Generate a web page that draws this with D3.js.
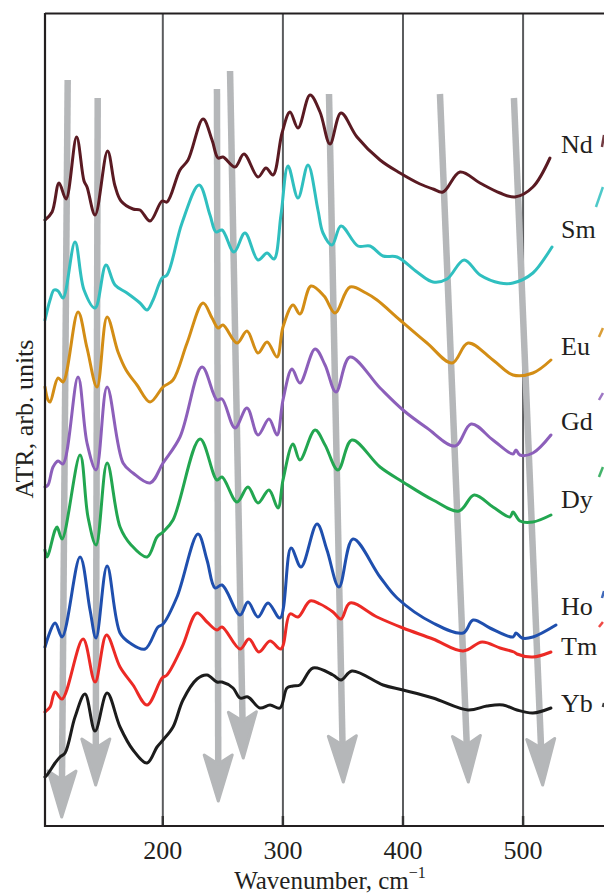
<!DOCTYPE html>
<html>
<head>
<meta charset="utf-8">
<script src="https://cdn.jsdelivr.net/npm/d3@7/dist/d3.min.js"></script>
<style>
body { margin: 0; background: #fff; }
svg { display: block; }
text { font-family: "Liberation Serif", "Times New Roman", serif; fill: #231f20; }
</style>
</head>
<body>
<script>
// wavenumber (cm-1) vs ATR (arb. units, curves offset vertically)
var xTicks = [200, 300, 400, 500];
var seriesNames = ['Nd', 'Sm', 'Eu', 'Gd', 'Dy', 'Ho', 'Tm', 'Yb'];
var seriesColors = ['#5a1a22', '#2fbfbf', '#d38d15', '#8c5fba', '#22a650', '#1f4fae', '#ec2a25', '#1c1c1c'];

var ndData = [[102.3,60.6],[108.2,61.4],[114.0,64.3],[119.8,62.7],[128.6,68.9],[134.8,64.5],[137.3,63.9],[144.0,61.1],
  [154.4,67.5],[160.6,64.0],[165.6,62.5],[175.6,61.7],[181.4,61.6],[189.8,60.5],[199.8,62.5],[203.9,62.4],[214.7,65.6],
  [221.4,66.6],[233.9,70.7],[241.4,68.6],[246.4,66.8],[250.5,66.9],[260.5,65.9],[268.0,67.2],[279.7,64.9],[286.3,65.8],
  [292.2,65.1],[299.7,69.3],[306.3,71.4],[313.0,69.8],[323.0,73.1],[331.3,71.4],[339.6,68.2],[348.8,71.3],[362.1,68.9],
  [381.3,66.6],[397.9,65.3],[414.6,64.2],[425.4,63.7],[433.7,63.4],[447.9,65.4],[464.5,64.3],[481.2,63.3],[493.7,62.9],
  [508.6,63.9],[522.8,66.8]];
var smData = [[102.3,50.6],[106.5,52.6],[109.8,53.6],[113.2,53.5],[117.3,52.8],[127.3,58.4],[134.8,53.6],[144.0,51.8],
  [153.1,56.1],[160.6,54.1],[170.6,53.3],[181.4,52.3],[187.3,51.6],[192.3,52.6],[199.8,54.8],[203.9,55.1],[216.4,60.3],
  [230.6,64.1],[239.7,61.1],[244.7,59.4],[249.7,59.6],[259.7,57.4],[268.8,59.3],[279.7,56.6],[287.2,57.3],[293.0,56.7],
  [298.8,61.1],[304.7,66.0],[313.0,62.8],[321.3,66.1],[329.6,61.6],[333.8,59.3],[341.3,58.1],[348.8,60.0],[362.9,58.0],
  [372.9,58.0],[383.8,57.0],[395.5,56.9],[412.1,55.4],[425.4,54.4],[437.1,54.7],[451.3,56.6],[464.6,55.1],[481.2,54.3],
  [492.0,54.3],[508.6,55.3],[524.5,57.9]];
var euData = [[102.3,43.9],[104.8,42.6],[106.5,42.4],[113.2,44.8],[117.3,44.4],[129.8,51.4],[137.3,47.8],[145.6,43.9],
  [154.0,50.9],[163.1,47.4],[169.8,45.6],[178.9,44.1],[189.8,42.4],[200.6,43.9],[208.9,44.6],[220.6,48.3],[233.9,52.3],
  [241.4,50.8],[246.4,49.8],[250.5,50.1],[262.2,48.3],[270.5,49.5],[279.7,47.3],[287.2,48.4],[295.5,46.9],[300.5,49.9],
  [308.8,52.1],[314.6,51.2],[323.8,54.0],[334.7,53.0],[343.8,51.3],[356.3,53.9],[369.6,53.3],[378.8,52.6],[397.9,50.6],
  [420.4,48.3],[441.3,46.3],[454.6,48.3],[475.3,46.6],[492.0,45.1],[508.6,45.3],[523.6,46.6]];
var gdData = [[102.3,33.9],[104.8,34.1],[109.0,35.9],[113.2,36.5],[117.3,36.2],[129.8,44.9],[137.3,38.3],[144.8,35.6],
  [154.0,43.9],[167.3,36.3],[175.6,35.3],[189.8,34.3],[200.6,36.3],[214.7,38.9],[233.1,45.9],[245.5,42.6],[249.7,42.7],
  [260.5,39.8],[270.5,41.8],[279.7,39.1],[288.8,40.7],[295.5,39.1],[300.5,42.6],[308.0,45.7],[314.6,44.3],[327.2,47.7],
  [335.5,46.1],[344.6,43.4],[356.3,46.9],[381.3,43.8],[400.4,41.6],[420.4,39.8],[443.8,38.0],[457.2,40.2],[475.3,38.6],
  [492.0,37.2],[494.5,37.6],[497.8,37.1],[508.6,37.3],[523.6,39.1]];
var dyData = [[102.3,27.6],[104.0,26.9],[110.7,29.6],[112.4,29.9],[116.5,28.7],[131.5,37.1],[138.1,30.9],[144.8,28.1],
  [154.0,36.3],[164.8,29.9],[174.0,28.1],[187.3,26.9],[195.6,28.9],[200.6,29.4],[208.9,30.6],[231.4,38.7],[245.5,34.6],
  [249.7,34.9],[262.2,32.4],[271.3,33.9],[279.7,32.3],[288.8,33.6],[296.3,31.8],[300.5,34.6],[308.8,38.2],[314.6,36.6],
  [327.2,39.6],[335.5,38.1],[346.3,35.6],[357.9,38.6],[381.3,35.9],[400.4,34.4],[425.4,32.6],[447.1,31.5],[459.7,33.1],
  [475.3,31.9],[489.5,30.9],[492.0,31.4],[497.8,30.5],[508.6,30.4],[523.6,31.1]];
var hoData = [[102.3,17.9],[110.7,20.3],[116.5,18.9],[131.5,26.9],[139.8,21.6],[144.8,18.8],[154.0,26.0],[164.8,19.3],
  [173.1,18.3],[185.6,17.7],[196.4,19.9],[200.6,20.2],[212.2,22.9],[229.7,29.2],[237.2,26.6],[243.9,23.8],[249.7,24.1],
  [264.7,21.1],[271.3,22.4],[279.7,20.9],[288.0,22.3],[298.0,20.8],[307.2,27.8],[315.5,25.9],[328.8,30.2],[337.1,27.6],
  [347.1,23.9],[358.8,28.7],[381.3,24.9],[395.5,22.8],[425.4,20.3],[450.5,19.3],[458.8,20.6],[472.8,19.8],[492.0,18.9],
  [494.5,19.3],[499.5,18.8],[508.6,18.9],[527.8,20.1]];
var tmData = [[102.3,11.4],[106.5,11.9],[110.7,13.4],[116.5,12.7],[134.0,18.7],[144.0,14.4],[153.5,19.1],[164.8,15.9],
  [175.6,14.1],[187.3,12.1],[199.8,14.8],[203.9,15.1],[216.4,17.9],[228.9,21.3],[237.2,20.4],[245.5,19.6],[249.7,19.9],
  [264.7,17.7],[272.2,18.7],[280.5,17.4],[289.7,18.5],[298.8,17.7],[306.3,21.2],[313.0,20.9],[323.0,22.5],[331.3,22.2],
  [342.1,21.4],[348.8,20.7],[356.3,22.3],[378.8,20.9],[400.4,19.8],[425.4,18.7],[450.5,17.5],[466.3,18.4],[481.2,17.8],
  [492.8,17.4],[495.3,17.2],[508.6,16.9],[523.6,17.4]];
var ybData = [[102.3,4.9],[104.0,5.1],[110.7,6.3],[114.8,6.9],[119.0,7.3],[127.3,10.9],[135.6,13.2],[144.0,9.5],
  [154.0,13.3],[164.8,9.9],[175.6,7.6],[187.3,6.3],[195.6,7.9],[200.6,8.6],[208.9,9.9],[217.2,12.6],[228.9,14.7],
  [237.2,15.1],[245.5,14.4],[249.7,14.4],[258.9,13.8],[264.7,12.8],[271.3,12.9],[281.3,11.8],[289.7,12.1],[298.0,11.8],
  [303.8,13.8],[308.8,14.0],[314.6,14.1],[325.5,15.8],[342.1,15.1],[348.8,14.6],[357.9,15.5],[383.8,14.1],[400.4,13.6],
  [425.4,12.8],[454.6,11.6],[470.3,12.0],[483.7,12.1],[495.3,11.6],[508.6,11.3],[523.6,11.8]];

// beginnings of the neighbouring panel's curves, cut by the right edge
var nextPanelData = [[[566.1,67.9],[567.8,69.1]], [[561.1,61.9],[566.9,63.9]], [[563.6,48.9],[566.9,49.8]],
  [[563.6,42.6],[566.9,43.3]], [[563.6,34.9],[566.9,35.9]], [[566.1,22.8],[567.8,23.5]],
  [[563.6,19.9],[566.9,20.4]], [[566.9,11.9],[567.8,12.3]]];

// grey arrows: [wavenumber, ATR] of tail and tip
var arrowFrom = [[121.2,74.6],[146.2,72.8],[245.5,73.7],[256.4,75.5],[338.8,73.2],[431.2,73.2],[492.8,72.8]];
var arrowTo = [[116.2,0.9],[144.5,4.1],[246.6,2.5],[267.4,6.8],[350.7,4.4],[454.8,4.4],[516.7,4.1]];

var seriesValues = [ndData, smData, euData, gdData, dyData, hoData, tmData, ybData];

window.document.addEventListener('DOMContentLoaded', init, false);

function init() {
    var svg = d3.select('body').append('svg')
        .attr('width', 604)
        .attr('height', 893);

    var x = d3.scaleLinear().domain([102.3, 567.8]).range([45, 604]);
    var y = d3.scaleLinear().domain([0, 81.3]).range([826, 13]);

    // grid lines + tick labels
    var axis = svg.append('g')
        .attr('transform', 'translate(0,826)')
        .call(d3.axisBottom(x).tickValues(xTicks).tickSize(-(826 - 13)).tickPadding(14.5));
    axis.select('.domain').remove();
    axis.selectAll('line').attr('stroke', '#5b5c5e').attr('stroke-width', 2);
    axis.selectAll('text')
        .attr('font-size', 26)
        .attr('font-family', '"Liberation Serif", "Times New Roman", serif')
        .attr('fill', '#231f20');
    axis.selectAll('.tick').append('line')
        .attr('y2', -10)
        .attr('stroke', '#333')
        .attr('stroke-width', 2.4);

    // arrows
    var headLen = 46, halfW = 14;
    var arrows = svg.append('g');
    arrowFrom.forEach(function (a, i) {
        var x1 = x(a[0]), y1 = y(a[1]);
        var x2 = x(arrowTo[i][0]), y2 = y(arrowTo[i][1]);
        var len = Math.hypot(x2 - x1, y2 - y1);
        var dx = (x2 - x1) / len, dy = (y2 - y1) / len;
        var bx = x2 - dx * headLen, by = y2 - dy * headLen;
        var nx = -dy, ny = dx;
        arrows.append('line')
            .attr('x1', x1).attr('y1', y1)
            .attr('x2', bx + dx * 8).attr('y2', by + dy * 8)
            .attr('stroke', '#b5b7b9')
            .attr('stroke-width', 6.5);
        var pts = [
            [bx + nx * halfW, by + ny * halfW],
            [x2, y2],
            [bx - nx * halfW, by - ny * halfW],
            [bx + dx * 9, by + dy * 9]
        ];
        arrows.append('path')
            .attr('d', 'M' + pts.join('L') + 'Z')
            .attr('fill', '#b5b7b9')
            .attr('stroke', '#b5b7b9')
            .attr('stroke-width', 3)
            .attr('stroke-linejoin', 'round');
    });

    // spectra
    var line = d3.line()
        .x((d) => x(d[0]))
        .y((d) => y(d[1]))
        .curve(d3.curveCatmullRom.alpha(0.5));

    svg.append('g').selectAll('path.spec')
        .data(seriesValues)
        .enter()
        .append('path')
            .attr('class', 'spec')
            .attr('d', line)
            .attr('fill', 'none')
            .attr('stroke', (d, i) => seriesColors[i])
            .attr('stroke-width', 3)
            .attr('stroke-linejoin', 'round')
            .attr('stroke-linecap', 'round');

    svg.append('g').selectAll('path.next')
        .data(nextPanelData)
        .enter()
        .append('path')
            .attr('class', 'next')
            .attr('d', d3.line().x((d) => x(d[0])).y((d) => y(d[1])))
            .attr('fill', 'none')
            .attr('stroke', (d, i) => seriesColors[i])
            .attr('stroke-width', 2.5)
            .attr('opacity', 0.85);

    // frame
    svg.append('path')
        .attr('d', 'M45,13.5H604M45,13V827M44,826H604')
        .attr('fill', 'none')
        .attr('stroke', '#231f20')
        .attr('stroke-width', 2.2);

    // curve labels
    var labelDy = [-5, -9, -5, -5, -7, -10, 3, 4];
    svg.append('g').selectAll('text')
        .data(seriesNames)
        .enter()
        .append('text')
            .attr('x', 561)
            .attr('y', (d, i) => y(seriesValues[i][seriesValues[i].length - 1][1]) + labelDy[i])
            .attr('font-size', 26)
            .text((d) => d);

    // axis titles
    var xt = svg.append('text')
        .attr('x', 330)
        .attr('y', 889)
        .attr('text-anchor', 'middle')
        .attr('font-size', 25);
    xt.append('tspan').text('Wavenumber, cm');
    xt.append('tspan').attr('font-size', 16).attr('dy', -11).text('\u22121');

    svg.append('text')
        .attr('transform', 'translate(33,419) rotate(-90)')
        .attr('text-anchor', 'middle')
        .attr('font-size', 26)
        .text('ATR, arb. units');
}
</script>
</body>
</html>
